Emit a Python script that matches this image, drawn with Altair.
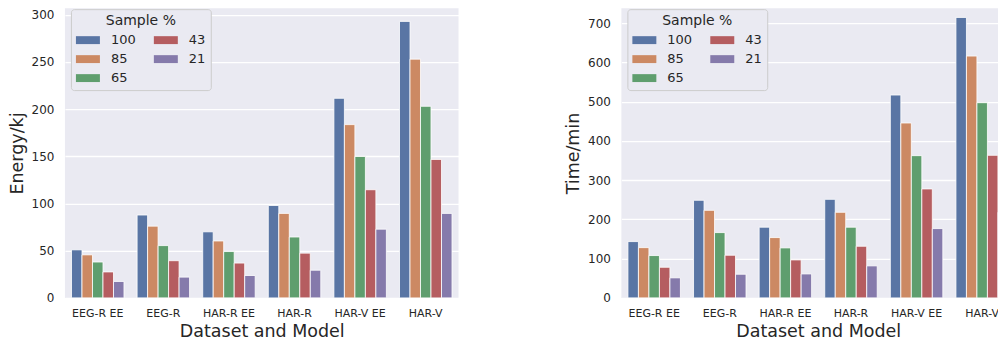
import altair as alt
import pandas as pd

categories = ["EEG-R EE", "EEG-R", "HAR-R EE", "HAR-R", "HAR-V EE", "HAR-V"]
samples = ["100", "85", "65", "43", "21"]

energy_100 = [50.9, 87.8, 70.0, 97.9, 211.5, 293.0]
energy_85 = [45.6, 76.0, 60.3, 89.5, 183.6, 253.0]
energy_65 = [38.0, 55.4, 49.1, 64.5, 149.8, 203.0]
energy_43 = [27.5, 39.4, 36.9, 47.4, 114.6, 146.7]
energy_21 = [17.4, 22.0, 23.7, 29.3, 72.8, 89.5]

time_100 = [143.4, 248.6, 180.0, 251.0, 516.7, 714.4]
time_85 = [128.0, 223.0, 153.6, 218.0, 445.5, 616.0]
time_65 = [107.8, 166.3, 127.3, 180.0, 362.3, 497.2]
time_43 = [78.0, 108.6, 96.7, 131.5, 277.5, 363.2]
time_21 = [51.0, 60.2, 61.0, 81.5, 176.5, 218.0]

palette = ["#5975A4", "#CC8963", "#5F9E6E", "#B55D60", "#857AAB"]

def long_df(series):
    rows = []
    for s, vals in zip(samples, series):
        for c, v in zip(categories, vals):
            rows.append({"cat": c, "sample": s, "value": v})
    return pd.DataFrame(rows)

energy_df = long_df([energy_100, energy_85, energy_65, energy_43, energy_21])
time_df = long_df([time_100, time_85, time_65, time_43, time_21])

FONT = "DejaVu Sans"
TXT = "#262626"

def panel(df, ytitle, ymax, ticks):
    return alt.Chart(df).mark_bar(stroke="white", strokeWidth=0.8).encode(
        x=alt.X("cat:N", sort=categories,
                scale=alt.Scale(paddingInner=0.2, paddingOuter=0.1),
                axis=alt.Axis(title="Dataset and Model", labelAngle=0, grid=False,
                              domain=False, ticks=False, labelPadding=10,
                              labelFontSize=11, titleFontSize=17.5, titlePadding=4,
                              labelColor=TXT, titleColor=TXT, labelFont=FONT,
                              titleFont=FONT, titleFontWeight="normal")),
        xOffset=alt.XOffset("sample:N", sort=samples, scale=alt.Scale(paddingInner=0, paddingOuter=0)),
        y=alt.Y("value:Q", scale=alt.Scale(domain=[0, ymax], nice=False),
                axis=alt.Axis(title=ytitle, values=ticks, grid=True, gridColor="white",
                              gridWidth=1.3, domain=False, ticks=False, labelPadding=11,
                              labelFontSize=12, titleFontSize=17.5, titlePadding=5,
                              labelColor=TXT, titleColor=TXT, labelFont=FONT,
                              titleFont=FONT, titleFontWeight="normal")),
        color=alt.Color("sample:N",
                        scale=alt.Scale(domain=samples, range=palette),
                        legend=alt.Legend(title="Sample %", orient="none", legendX=6, legendY=1,
                                          columns=2, columnPadding=18, rowPadding=-6,
                                          symbolType="M-1,-0.33L1,-0.33L1,0.33L-1,0.33Z",
                                          symbolSize=576, symbolStrokeWidth=0,
                                          labelOffset=11,
                                          labelFontSize=13, titleFontSize=14,
                                          titleFontWeight="normal", titleAnchor="middle",
                                          titlePadding=0,
                                          labelFont=FONT, titleFont=FONT,
                                          labelColor=TXT, titleColor=TXT,
                                          fillColor="#EAEAF2", strokeColor="#CCCCCC",
                                          padding=5, cornerRadius=3, offset=0)),
    ).properties(width=394, height=290)

left = panel(energy_df, "Energy/kj", 307, [0, 50, 100, 150, 200, 250, 300])
right = panel(time_df, "Time/min", 738, [0, 100, 200, 300, 400, 500, 600, 700])

chart = alt.hconcat(left, right, spacing=106).resolve_scale(color="independent").configure(
    background="white", padding={"left": 0, "top": 0, "right": -17, "bottom": 0}
).configure_view(fill="#EAEAF2", strokeWidth=0)

chart.save("out.html", embed_options={"renderer": "svg", "actions": False})
